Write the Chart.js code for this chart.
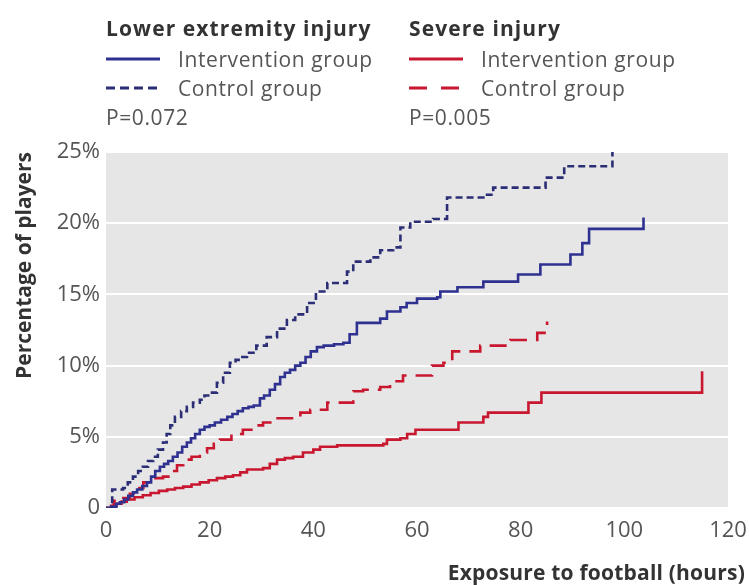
<!DOCTYPE html>
<html>
<head>
<meta charset="utf-8">
<script src="https://cdn.jsdelivr.net/npm/chart.js@4"></script>
<style>
  body{margin:0;background:#fff;font-family:"Open Sans",sans-serif;}
  #wrap{position:relative;width:749px;height:585px;}
  #chart{position:absolute;left:0;top:0;}
  .leg{position:absolute;color:#555;font-size:21px;letter-spacing:0.6px;white-space:nowrap;}
  .leg b{color:#333;letter-spacing:1.1px;}
  .row{display:flex;align-items:center;height:29px;}
  .row.head{height:32px;}
  .row svg{margin-right:18px;}
  #xtitle{position:absolute;right:4px;top:558px;font-size:21px;letter-spacing:0.2px;font-weight:bold;color:#333;}
</style>
</head>
<body>
<div id="wrap">
  <canvas id="chart" width="749" height="585"></canvas>
  <div class="leg" style="left:106px;top:12px">
    <div class="row head"><b>Lower extremity injury</b></div>
    <div class="row"><svg width="54" height="6"><line x1="0" y1="3" x2="54" y2="3" stroke="#2e3190" stroke-width="3"/></svg>Intervention group</div>
    <div class="row"><svg width="54" height="6"><line x1="0" y1="3" x2="54" y2="3" stroke="#2b2e75" stroke-width="3" stroke-dasharray="9,5"/></svg>Control group</div>
    <div class="row">P=0.072</div>
  </div>
  <div class="leg" style="left:409px;top:12px">
    <div class="row head"><b>Severe injury</b></div>
    <div class="row"><svg width="54" height="6"><line x1="0" y1="3" x2="54" y2="3" stroke="#c8172f" stroke-width="3"/></svg>Intervention group</div>
    <div class="row"><svg width="54" height="6"><line x1="0" y1="3" x2="54" y2="3" stroke="#c8172f" stroke-width="3" stroke-dasharray="18,14"/></svg>Control group</div>
    <div class="row">P=0.005</div>
  </div>
  <div id="xtitle">Exposure to football (hours)</div>
</div>
<script>
/* ================= Data ================= */
// lower extremity injury, intervention group (hours, %)
const leInterX = [0,1,2,2.7,3.5,4.3,5.2,6,7,7.9,8.7,9.5,10.4,11.2,12,12.9,13.8,14.7,15.6,16.4,17.2,18.1,19,20,21,22.2,23.4,24.4,25.4,26.4,27.5,28.5,29.7,30.5,31.6,32.6,33.6,34.5,35.5,36.5,37.5,38.5,39.5,40.7,42,44,45.8,47,48.4,52.9,54.2,56.8,58,60,63.9,64.5,67.8,72.8,79.5,83.8,89.6,91.9,93.2,103.7,103.7];
const leInterY = [0,0.1,0.3,0.4,0.6,0.85,1.1,1.3,1.55,1.8,2.2,2.6,2.9,3.1,3.3,3.6,3.9,4.3,4.6,4.9,5.2,5.5,5.7,5.8,6.0,6.2,6.4,6.6,6.8,7.0,7.1,7.2,7.7,7.9,8.3,8.7,9.2,9.5,9.7,10.0,10.2,10.6,11.0,11.3,11.4,11.5,11.6,12.2,13.0,13.3,13.8,14.1,14.4,14.7,14.8,15.2,15.5,15.9,16.4,17.1,17.8,18.6,19.6,19.6,20.4];

// lower extremity injury, control group
const leCtrlX = [0,1.2,3.3,4.2,5.2,6.2,7.1,8.1,9.1,10,11,11.7,12.4,13.3,14.5,15.6,16.8,18.1,19,20,21.4,22.6,23.9,25,25.9,27.2,29,31,33,34.9,36.5,38.8,40.5,42.7,45.2,46.5,47.7,51,52.9,55.4,56.8,58.7,63.1,65.8,72.8,74.7,84.8,88.4,97.7,97.7];
const leCtrlY = [0,1.3,1.4,1.8,2.2,2.6,2.9,3.3,3.6,4.1,4.6,5.2,5.8,6.4,6.8,7.1,7.4,7.6,7.9,8.1,8.8,9.5,10.2,10.4,10.6,10.9,11.4,12.0,12.6,13.2,13.6,14.4,15.2,15.8,15.8,16.6,17.3,17.6,18.1,18.3,19.7,20.1,20.3,21.8,22.0,22.5,23.2,24.0,24.0,25.0];

// severe injury, intervention group
const sevInterX = [0,1,2,3,4,5.5,7.1,8.6,10.2,11.8,13.3,14.9,16.5,18.1,19.8,21.4,23,24.5,25.9,27.2,30.3,31.6,33,34.5,36.1,38,40,41.3,44.6,53.5,54.2,56.8,58.1,59.7,68,72.8,73.7,81.5,84,115,115];
const sevInterY = [0,0.15,0.3,0.45,0.6,0.75,0.9,1.05,1.2,1.3,1.4,1.5,1.65,1.8,1.95,2.1,2.2,2.3,2.5,2.7,2.8,3.1,3.4,3.5,3.6,3.9,4.1,4.3,4.4,4.5,4.8,4.9,5.2,5.5,6.0,6.4,6.7,7.4,8.1,8.1,9.6];

// severe injury, control group
const sevCtrlX = [0,1.5,3,4.6,6,7.2,8.5,11,12.4,13.7,14.9,16.5,18.1,19.5,20.8,22,24.2,26.4,28.4,30.3,32.2,34.9,37.5,39.4,42.7,47.7,49.6,52.9,54.8,57.3,62.9,65.1,66.8,72.2,78,83.2,85.1,85.1];
const sevCtrlY = [0,0.5,0.7,1.0,1.4,1.8,2.1,2.2,2.6,3.0,3.4,3.6,3.9,4.2,4.5,4.8,5.2,5.5,5.8,6.0,6.3,6.3,6.7,6.9,7.4,8.2,8.3,8.5,8.9,9.3,10.0,10.2,11.0,11.4,11.8,12.3,12.3,13.1];

const xTicks = [0,20,40,60,80,100,120];
const yTicks = [0,5,10,15,20,25];

function pts(xs, ys){ return xs.map((x,i)=>({x:x, y:ys[i]})); }

/* ================= Chart ================= */
const plotBg = {
  id:'plotBg',
  beforeDraw(c){
    const a = c.chartArea, g = c.ctx;
    g.save();
    g.fillStyle = '#e6e6e6';
    g.fillRect(a.left, a.top, a.right-a.left, a.bottom-a.top);
    g.restore();
  }
};

const tickFont = {family:'"Open Sans", sans-serif', size:22};

new Chart(document.getElementById('chart'), {
  type:'line',
  data:{
    datasets:[
      {label:'LE control', data:pts(leCtrlX, leCtrlY), borderColor:'#2b2e75', borderDash:[7,4]},
      {label:'LE intervention', data:pts(leInterX, leInterY), borderColor:'#2e3190'},
      {label:'Severe control', data:pts(sevCtrlX, sevCtrlY), borderColor:'#c8172f', borderDash:[17,9]},
      {label:'Severe intervention', data:pts(sevInterX, sevInterY), borderColor:'#c8172f'}
    ].map(d=>Object.assign({stepped:true, pointRadius:0, borderWidth:2.6, fill:false}, d))
  },
  options:{
    responsive:false,
    animation:false,
    devicePixelRatio:1,
    layout:{padding:{top:152, right:21, left:0, bottom:0}},
    plugins:{legend:{display:false}, tooltip:{enabled:false}},
    scales:{
      x:{
        type:'linear', min:0, max:120,
        afterBuildTicks(s){ s.ticks = xTicks.map(v=>({value:v})); },
        afterFit(s){ s.height = 77; },
        grid:{display:false},
        border:{display:false},
        ticks:{color:'#555', font:tickFont, padding:2, maxRotation:0}
      },
      y:{
        min:0, max:25,
        afterBuildTicks(s){ s.ticks = yTicks.map(v=>({value:v})); },
        afterFit(s){ s.width = 106; },
        grid:{color:'#ffffff', lineWidth:2, drawTicks:false},
        border:{display:false},
        ticks:{color:'#555', font:tickFont, padding:6, callback:v=>v===0?'0':v+'%'},
        title:{display:true, text:'Percentage of players', align:'end', color:'#333',
               font:{family:'"Open Sans", sans-serif', size:21, weight:'bold'}, padding:{top:12, bottom:0}}
      }
    }
  },
  plugins:[plotBg]
});
</script>
</body>
</html>
